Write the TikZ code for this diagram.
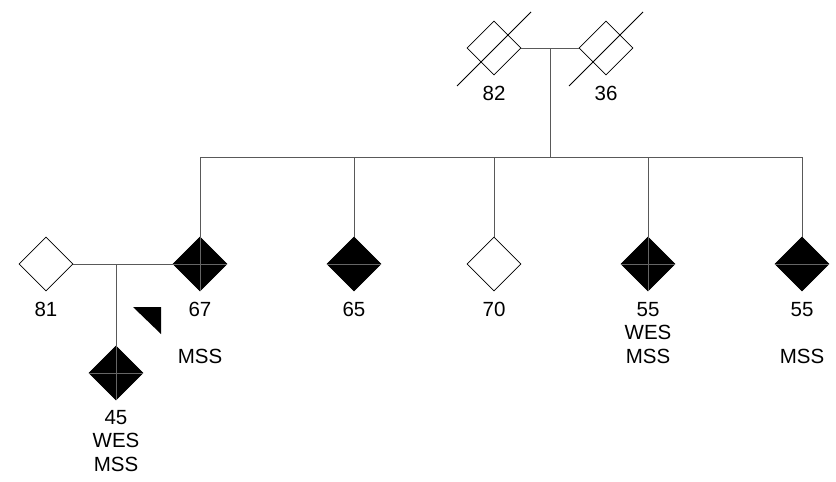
\documentclass[tikz,border=0pt]{standalone}
\usepackage{fontspec}
\setmainfont{Liberation Sans}
\usetikzlibrary{shapes.geometric}
\begin{document}
\begin{tikzpicture}[x=1pt,y=-1pt,
  indiv/.style={diamond,draw=black,line width=0.8pt,inner sep=0pt,minimum width=54pt,minimum height=54pt,aspect=1},
  affected/.style={indiv,fill=black},
  unaff/.style={indiv,fill=white},
  conn/.style={draw=black!65,line width=0.9pt},
  slash/.style={draw=black,line width=0.8pt},
  quad/.style={draw=black!60,line width=0.4pt},
  lab/.style={font=\fontsize{20.5}{23.5}\selectfont,align=center,anchor=north,inner sep=0pt}]
\useasboundingbox (0,0) rectangle (836,482);
% top generation
\node[unaff] (g82) at (494,48) {};
\node[unaff] (g36) at (606,48) {};
\draw[slash] (g82) ++(-37,38) -- ++(74,-74);
\draw[slash] (g36) ++(-37,38) -- ++(74,-74);
\node[lab] (t82) at (494,86) {82};
\node[lab] (t36) at (606,86) {36};
\coordinate (c1) at (550,48);
\coordinate (sibL) at (200,157);
\coordinate (sibR) at (802,157);
\coordinate (sibM) at (550,157);
\draw[conn] (g82.east) -- (g36.west);
\draw[conn] (c1) -- (sibM);
\draw[conn] (sibL) -- (sibR);
% children
\node[affected] (p67) at (200,264) {};
\node[affected] (p65) at (354,264) {};
\node[unaff] (p70) at (494,264) {};
\node[affected] (p55a) at (648,264) {};
\node[affected] (p55b) at (802,264) {};
\foreach \n in {p67,p65,p70,p55a,p55b}{
  \draw[conn] (\n.north |- sibL) -- (\n.north);
}
% inner quadrant lines
\draw[quad] (p67.west) -- (p67.east) (p67.north) -- (p67.south);
\draw[quad] (p55a.west) -- (p55a.east) (p55a.north) -- (p55a.south);
\draw[quad] (p65.west) -- (p65.east);
\draw[quad] (p55b.west) -- (p55b.east);
\node[lab] (t67) at (200,302) {67\\[23.5pt]MSS};
\node[lab] (t65) at (354,302) {65};
\node[lab] (t70) at (494,302) {70};
\node[lab] (t55a) at (648,302) {55\\WES\\MSS};
\node[lab] (t55b) at (802,302) {55\\[23.5pt]MSS};
% spouse and proband
\node[unaff] (p81) at (46,264) {};
\node[lab] (t81) at (46,302) {81};
\draw[conn] (p81.east) -- (p67.west);
\coordinate (c2) at (116,264);
\node[affected] (p45) at (116,373) {};
\draw[quad] (p45.west) -- (p45.east) (p45.north) -- (p45.south);
\draw[conn] (c2) -- (p45.north);
\node[lab] (t45) at (116,410) {45\\WES\\MSS};
% proband arrow
\coordinate (a1) at (133,307);
\coordinate (a2) at (161,307);
\coordinate (a3) at (161,334);
\fill[black] (a1) -- (a2) -- (a3) -- cycle;
\end{tikzpicture}
\end{document}
